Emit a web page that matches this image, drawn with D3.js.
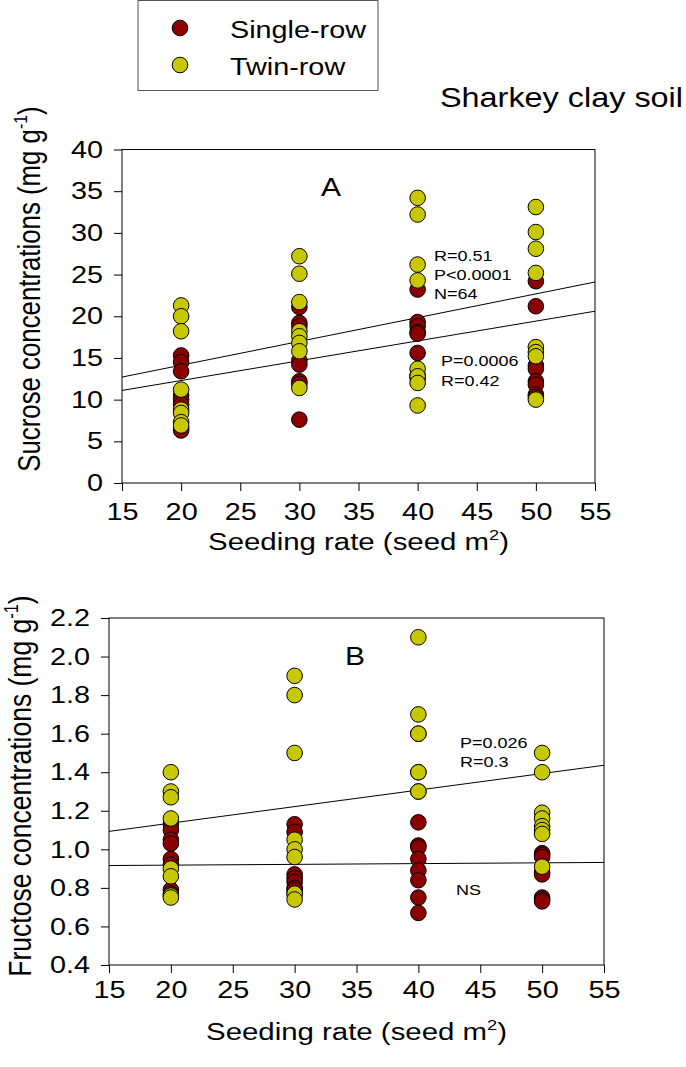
<!DOCTYPE html>
<html><head><meta charset="utf-8">
<script src="https://cdn.jsdelivr.net/npm/d3@7"></script>
<style>
body{margin:0;background:#fff}
svg{display:block}
text{font-family:"Liberation Sans",Arial,sans-serif;fill:#000}
</style>
</head><body>
<svg id="c" width="686" height="1067"></svg>
<script>
// ---------- data ----------
const seedingRates = [20, 30, 40, 50];
const seriesNames = ["Single-row", "Twin-row"];
const xTicks = [15, 20, 25, 30, 35, 40, 45, 50, 55];
const sucroseTicks = [0, 5, 10, 15, 20, 25, 30, 35, 40];
const fructoseTicks = [0.4, 0.6, 0.8, 1.0, 1.2, 1.4, 1.6, 1.8, 2.0, 2.2];

// sucrose (mg g-1), one list per seeding rate
const sucroseSingle = [
  [15.3, 14.5, 13.4, 10.5, 10.0, 9.4, 6.6, 6.3],
  [21.1, 19.2, 18.8, 14.7, 14.2, 12.2, 11.9, 7.6],
  [23.2, 19.3, 18.8, 18.1, 17.9, 15.6, 12.9, 12.6],
  [24.2, 21.2, 14.1, 13.7, 12.2, 11.8, 10.6, 10.3]
];
const sucroseTwin = [
  [21.3, 20.0, 18.2, 11.2, 8.8, 8.4, 7.3, 6.9],
  [27.2, 25.1, 21.7, 18.2, 17.6, 16.8, 15.8, 11.4],
  [34.2, 32.2, 26.2, 24.3, 13.7, 12.8, 12.0, 9.3],
  [33.1, 30.1, 28.1, 25.2, 16.3, 15.7, 15.2, 10.0]
];
// fructose (mg g-1)
const fructoseSingle = [
  [1.13, 1.10, 1.05, 1.03, 0.95, 0.92, 0.79, 0.77],
  [1.13, 1.09, 0.87, 0.85, 0.83, 0.80, 0.79, 0.77],
  [1.14, 1.02, 1.01, 0.95, 0.89, 0.84, 0.75, 0.67],
  [0.98, 0.97, 0.96, 0.88, 0.87, 0.75, 0.74, 0.73]
];
const fructoseTwin = [
  [1.40, 1.30, 1.27, 1.16, 0.90, 0.86, 0.76, 0.75],
  [1.90, 1.80, 1.50, 1.05, 1.00, 0.96, 0.77, 0.74],
  [2.10, 1.70, 1.60, 1.40, 1.30, 1.30, 1.40, 1.60],
  [1.50, 1.40, 1.19, 1.16, 1.12, 1.10, 1.08, 0.91]
];
// regression fits: [intercept, slope]
const sucroseFits = [[8.43, 0.285], [7.54, 0.2375]];
const fructoseFits = [[0.9644, 0.008575], [0.910, 0.0004]];

const colors = ["#8b0000", "#c8c800"];

// ---------- drawing ----------
const svg = d3.select("#c");
const SX = 1.2;          // horizontal text stretch seen in the reference
const TICK_FS = 24;

function stretchText(sel) {
  sel.each(function () {
    const t = d3.select(this);
    const x = +t.attr("x") || 0;
    t.attr("x", x / SX).attr("transform", `scale(${SX},1)`);
  });
}

function label(parent, x, y, size, anchor, parts, rotate) {
  const g = parent.append("g")
    .attr("transform", `translate(${x},${y}) scale(${SX},1)` + (rotate ? " rotate(-90)" : ""));
  const t = g.append("text").attr("text-anchor", anchor).style("font-size", size + "px");
  parts.forEach(p => {
    const s = t.append("tspan").text(p.t);
    if (p.sup) s.attr("dy", -size * 0.42).style("font-size", (size * 0.62) + "px");
    if (p.down) s.attr("dy", size * 0.42);
  });
  return t;
}

function panel(cfg) {
  const x = d3.scaleLinear().domain([15, 55]).range([cfg.left, cfg.right]);
  const y = d3.scaleLinear().domain(cfg.yDomain).range([cfg.bottom, cfg.top]);
  const g = svg.append("g");

  g.append("rect").attr("x", cfg.left).attr("y", cfg.top)
    .attr("width", cfg.right - cfg.left).attr("height", cfg.bottom - cfg.top)
    .attr("fill", "none").attr("stroke", "#000").attr("stroke-width", 1);

  const ax = g.append("g").attr("transform", `translate(0,${cfg.bottom})`)
    .call(d3.axisBottom(x).tickValues(xTicks).tickSize(8).tickSizeOuter(0).tickPadding(cfg.xPad).tickFormat(d3.format("d")));
  ax.select(".domain").remove();
  ax.selectAll("text").style("font-size", TICK_FS + "px").style("font-family", "Liberation Sans, Arial, sans-serif");
  stretchText(ax.selectAll("text"));

  const ay = g.append("g").attr("transform", `translate(${cfg.left},0)`)
    .call(d3.axisLeft(y).tickValues(cfg.yTicks).tickSize(8).tickSizeOuter(0).tickPadding(11).tickFormat(cfg.fmt));
  ay.select(".domain").remove();
  ay.selectAll("text").style("font-size", TICK_FS + "px").style("font-family", "Liberation Sans, Arial, sans-serif");
  stretchText(ay.selectAll("text"));

  const clipId = "clip" + cfg.id;
  svg.append("clipPath").attr("id", clipId).append("rect")
    .attr("x", cfg.left).attr("y", cfg.top).attr("width", cfg.right - cfg.left).attr("height", cfg.bottom - cfg.top);
  const line = d3.line().x(d => x(d[0])).y(d => y(d[1]));
  cfg.fits.forEach(f => {
    const pts = [15, 55].map(v => [v, f[0] + f[1] * v]);
    g.append("path").attr("d", line(pts)).attr("fill", "none")
      .attr("stroke", "#000").attr("stroke-width", 1).attr("clip-path", `url(#${clipId})`);
  });

  [cfg.single, cfg.twin].forEach((series, si) => {
    const pts = [];
    series.forEach((vals, i) => vals.forEach(v => pts.push([seedingRates[i], v])));
    g.append("g").selectAll("circle").data(pts).join("circle")
      .attr("cx", d => x(d[0])).attr("cy", d => y(d[1])).attr("r", 7.8)
      .attr("fill", colors[si]).attr("stroke", "#000").attr("stroke-width", 1);
  });

  label(g, (cfg.left + cfg.right) / 2, cfg.xTitleY, 24.5, "middle",
    [{t: "Seeding rate (seed m"}, {t: "2", sup: true}, {t: ")", down: true}]);
  label(g, cfg.yTitleX, cfg.yTitleY, cfg.yTitleFS, "middle",
    [{t: cfg.yTitle + " (mg g"}, {t: "-1", sup: true}, {t: ")", down: true}], true);

  cfg.notes.forEach(n => label(g, n[1], n[2], n[3], "start", [{t: n[0]}]));
  return {x, y};
}

panel({
  id: "A", left: 122, right: 595, top: 149.5, bottom: 483,
  yDomain: [0, 40], yTicks: sucroseTicks, fmt: d3.format("d"), xPad: 12,
  single: sucroseSingle, twin: sucroseTwin, fits: sucroseFits,
  xTitleY: 550, yTitleX: 40, yTitleY: 289, yTitleFS: 25.8, yTitle: "Sucrose concentrations",
  notes: [["A", 321, 196, 25], ["R=0.51", 434, 261, 15], ["P<0.0001", 434, 280, 15], ["N=64", 434, 299, 15],
          ["P=0.0006", 441, 366, 15], ["R=0.42", 441, 386, 15]]
});
panel({
  id: "B", left: 109, right: 604, top: 618, bottom: 965,
  yDomain: [0.4, 2.2], yTicks: fructoseTicks, fmt: d3.format(".1f"), xPad: 8,
  single: fructoseSingle, twin: fructoseTwin, fits: fructoseFits,
  xTitleY: 1040, yTitleX: 31, yTitleY: 786, yTitleFS: 26.5, yTitle: "Fructose concentrations",
  notes: [["B", 345, 665, 25], ["P=0.026", 460, 748, 15], ["R=0.3", 460, 767, 15], ["NS", 456, 895, 15]]
});

// legend
const lg = svg.append("g");
lg.append("rect").attr("x", 138).attr("y", 0.5).attr("width", 240).attr("height", 90)
  .attr("fill", "#fff").attr("stroke", "#555").attr("stroke-width", 1);
seriesNames.forEach((name, i) => {
  lg.append("circle").attr("cx", 180).attr("cy", 28 + i * 37).attr("r", 7.8)
    .attr("fill", colors[i]).attr("stroke", "#000").attr("stroke-width", 1);
  label(lg, 230, 38 + i * 37, 24, "start", [{t: name}]);
});
label(svg, 683, 107, 27, "end", [{t: "Sharkey clay soil"}]);
</script>
</body></html>
